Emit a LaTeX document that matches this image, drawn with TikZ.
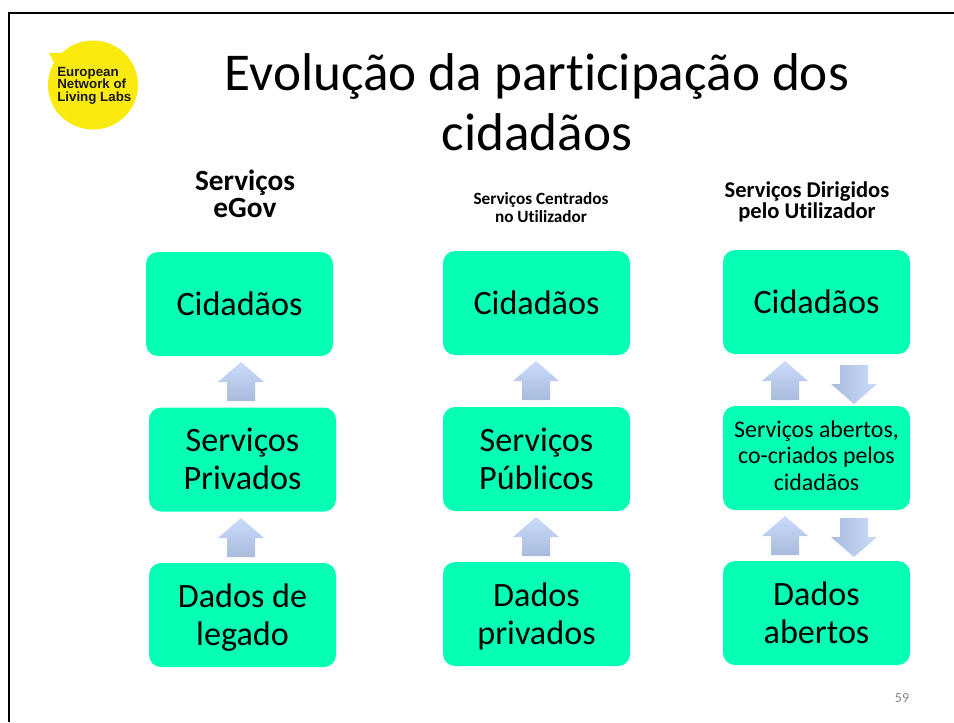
\documentclass[tikz,border=0pt]{standalone}
\usepackage{fontspec}
\setmainfont[Ligatures=CommonOff]{Carlito}
\newfontfamily\logofont{Liberation Sans}
\definecolor{boxgreen}{HTML}{07FFB5}
\definecolor{logoyellow}{HTML}{FAEA0E}
\definecolor{arrowlight}{HTML}{CADBFA}
\definecolor{arrowdark}{HTML}{A9BBDD}
\definecolor{pagegrey}{HTML}{898989}
\newcommand{\boxstrut}{\rule[-.2em]{0pt}{1.08em}}
\newcommand{\toptall}{\rule{0pt}{.85em}}
\tikzset{
  greenbox/.style={fill=boxgreen,rounded corners=9pt,minimum width=140.25pt,minimum height=78pt,inner sep=0pt,align=center,font=\fontsize{25.6}{28.6}\selectfont,text=black,execute at begin node=\boxstrut,execute at end node=\boxstrut},
  smallbox/.style={greenbox,font=\fontsize{17.9}{19.9}\selectfont},
  uparrow/.style={top color=arrowlight,bottom color=arrowdark,draw=none},
  downarrow/.style={left color=arrowdark,right color=arrowlight,draw=none}
}
\newcommand{\arrowup}[2]{\path[uparrow] (#1,#2) -- ++(23,20) -- ++(-9,0) -- ++(0,19) -- ++(-28,0) -- ++(0,-19) -- ++(-9,0) -- cycle;}
\newcommand{\arrowdown}[2]{\path[downarrow] (#1,#2) -- ++(23,-20) -- ++(-9,0) -- ++(0,-19) -- ++(-28,0) -- ++(0,19) -- ++(-9,0) -- cycle;}
\begin{document}
\begin{tikzpicture}[x=0.75pt,y=-0.75pt]
\useasboundingbox (0,0) rectangle (954,722);
\fill[white] (0,0) rectangle (954,722);
\draw[line width=1.5pt,black] (8.5,722) -- (8.5,12.5) -- (954,12.5);
% logo
\fill[logoyellow] (93,85) circle[x radius=45,y radius=44.5];
\fill[logoyellow] (49,53) -- (66,53) -- (58,70) -- cycle;
\node[anchor=west,align=left,inner sep=0pt,font=\logofont\bfseries\fontsize{10}{9.4}\selectfont,text=black!90] (logo) at (57,85.5) {European\\Network of\\Living Labs};
% title
\node[align=center,inner sep=0pt,font=\fontsize{39.9}{45}\selectfont] (title) at (537,102) {Evolução da participação dos\\cidadãos};
% headers
\node[align=center,inner sep=0pt,font=\bfseries\fontsize{22}{20.25}\selectfont] (h1) at (245,194) {Serviços\\eGov};
\node[align=center,inner sep=0pt,font=\bfseries\fontsize{12.9}{13.5}\selectfont] (h2) at (541,207.5) {Serviços Centrados\\no Utilizador};
\node[align=center,inner sep=0pt,font=\bfseries\fontsize{16.9}{14.1}\selectfont] (h3) at (807,201.5) {Serviços Dirigidos\\pelo Utilizador};
% boxes
\node[greenbox] (a1) at (239.5,304) {Cidadãos};
\node[greenbox] (a2) at (242.5,459.5) {\toptall Serviços\\Privados};
\node[greenbox] (a3) at (242.5,615) {\toptall Dados de\\legado};
\node[greenbox] (b1) at (536.5,303) {Cidadãos};
\node[greenbox] (b2) at (536.5,459) {\toptall Serviços\\Públicos};
\node[greenbox] (b3) at (536.5,614) {\toptall Dados\\privados};
\node[greenbox] (c1) at (816.5,302) {Cidadãos};
\node[smallbox] (c2) at (816.5,458) {Serviços abertos,\\co-criados pelos\\cidadãos};
\node[greenbox] (c3) at (816.5,613) {\toptall Dados\\abertos};
% arrows
\arrowup{241}{362}
\arrowup{241}{518}
\arrowup{536}{361}
\arrowup{536}{517}
\arrowup{785}{361}
\arrowup{785}{516}
\arrowdown{854}{404}
\arrowdown{854}{557}
% page number
\node[inner sep=0pt,text=pagegrey,font=\fontsize{10.5}{12}\selectfont] (page) at (902,698) {59};
\end{tikzpicture}
\end{document}
